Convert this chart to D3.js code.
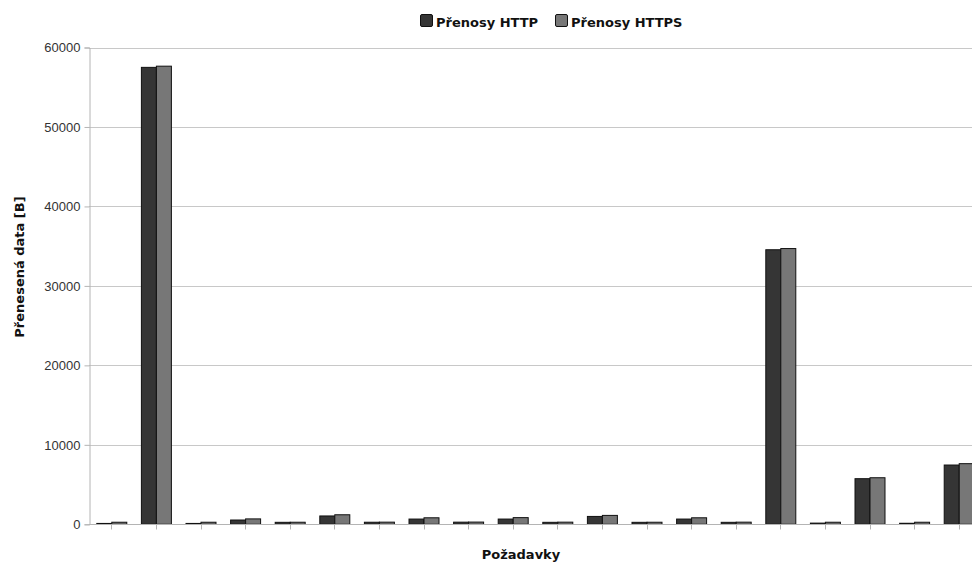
<!DOCTYPE html>
<html>
<head>
<meta charset="utf-8">
<script src="https://cdn.jsdelivr.net/npm/d3@7"></script>
<style>
  html, body { margin: 0; padding: 0; background: #fff; }
  svg { display: block; }
</style>
</head>
<body>
<svg id="chart" width="972" height="562"></svg>
<script>
// Requests (one group per request)
const categories = ["1","2","3","4","5","6","7","8","9","10","11","12","13","14","15","16","17","18","19","20"];
// Transferred bytes per request
const httpValues  = [110, 57500, 110, 540, 250, 1050, 260, 660, 270, 660, 250, 990, 250, 660, 250, 34550, 150, 5740, 130, 7460];
const httpsValues = [260, 57650, 260, 680, 260, 1200, 270, 820, 280, 840, 270, 1120, 260, 820, 270, 34700, 260, 5860, 260, 7630];
const seriesNames = ["Přenosy HTTP", "Přenosy HTTPS"];
const seriesColors = ["#353535", "#777777"];
const yTicks = [0, 10000, 20000, 30000, 40000, 50000, 60000];

const svg = d3.select("#chart");
const margin = { left: 89, top: 47.5 };
const plotW = 892, plotH = 476.8;

const x = d3.scaleBand().domain(categories).range([margin.left, margin.left + plotW]).paddingInner(0).paddingOuter(0);
const sub = d3.scaleBand().domain([0, 1]).range([0, x.bandwidth()]).paddingOuter(0.487);
const y = d3.scaleLinear().domain([0, 60000]).range([margin.top + plotH, margin.top]);

// Horizontal gridlines
svg.append("g").selectAll("line").data(yTicks.filter(d => d > 0)).join("line")
  .attr("x1", margin.left).attr("x2", margin.left + plotW)
  .attr("y1", d => Math.round(y(d)) + 0.5).attr("y2", d => Math.round(y(d)) + 0.5)
  .attr("stroke", "#c8c8c8").attr("stroke-width", 1);

// Y axis
const yAxis = svg.append("g")
  .attr("transform", `translate(${margin.left + 0.5},0)`)
  .call(d3.axisLeft(y).tickValues(yTicks).tickSize(5).tickPadding(4).tickFormat(d3.format("d")));
yAxis.select(".domain").attr("stroke", "#b4b4b4");
yAxis.selectAll(".tick line").attr("stroke", "#b4b4b4");
yAxis.selectAll(".tick text").attr("fill", "#333").attr("font-family", "Liberation Sans, Arial, sans-serif").attr("font-size", 13);

// Bars
const data = categories.map((c, i) => ({ c, v: [httpValues[i], httpsValues[i]] }));
const groups = svg.append("g").selectAll("g").data(data).join("g")
  .attr("transform", d => `translate(${x(d.c)},0)`);
groups.selectAll("rect").data(d => d.v.map((v, k) => ({ v, k }))).join("rect")
  .attr("x", d => sub(d.k) + 0.5)
  .attr("width", sub.bandwidth())
  .attr("y", d => y(d.v))
  .attr("height", d => y(0) - y(d.v))
  .attr("fill", d => seriesColors[d.k])
  .attr("stroke", "#111").attr("stroke-width", 1);

// Baseline and category ticks
const baseY = Math.round(y(0)) + 0.5;
svg.append("line").attr("x1", margin.left).attr("x2", margin.left + plotW)
  .attr("y1", baseY).attr("y2", baseY).attr("stroke", "#b4b4b4");
svg.append("g").selectAll("line").data(categories).join("line")
  .attr("x1", d => Math.round(x(d) + x.bandwidth() / 2) + 0.5)
  .attr("x2", d => Math.round(x(d) + x.bandwidth() / 2) + 0.5)
  .attr("y1", baseY).attr("y2", baseY + 5).attr("stroke", "#b4b4b4");

// Axis titles
svg.append("text").attr("transform", "translate(24,267) rotate(-90)")
  .attr("text-anchor", "middle").attr("font-family", "DejaVu Sans, sans-serif")
  .attr("font-weight", "bold").attr("font-size", 13).attr("fill", "#111").text("Přenesená data [B]");
svg.append("text").attr("x", 521).attr("y", 559)
  .attr("text-anchor", "middle").attr("font-family", "DejaVu Sans, sans-serif")
  .attr("font-weight", "bold").attr("font-size", 13).attr("fill", "#111").text("Požadavky");

// Legend
const legendX = [420, 555];
const legend = svg.append("g").selectAll("g").data(seriesNames).join("g")
  .attr("transform", (d, i) => `translate(${legendX[i]},14)`);
legend.append("rect").attr("x", 0.5).attr("y", 0.5).attr("width", 12).attr("height", 12)
  .attr("rx", 1.5).attr("fill", (d, i) => seriesColors[i]).attr("stroke", "#111");
legend.append("text").attr("x", 16).attr("y", 12.5)
  .attr("font-family", "DejaVu Sans, sans-serif").attr("font-weight", "bold")
  .attr("font-size", 13).attr("fill", "#111").text(d => d);
</script>
</body>
</html>
